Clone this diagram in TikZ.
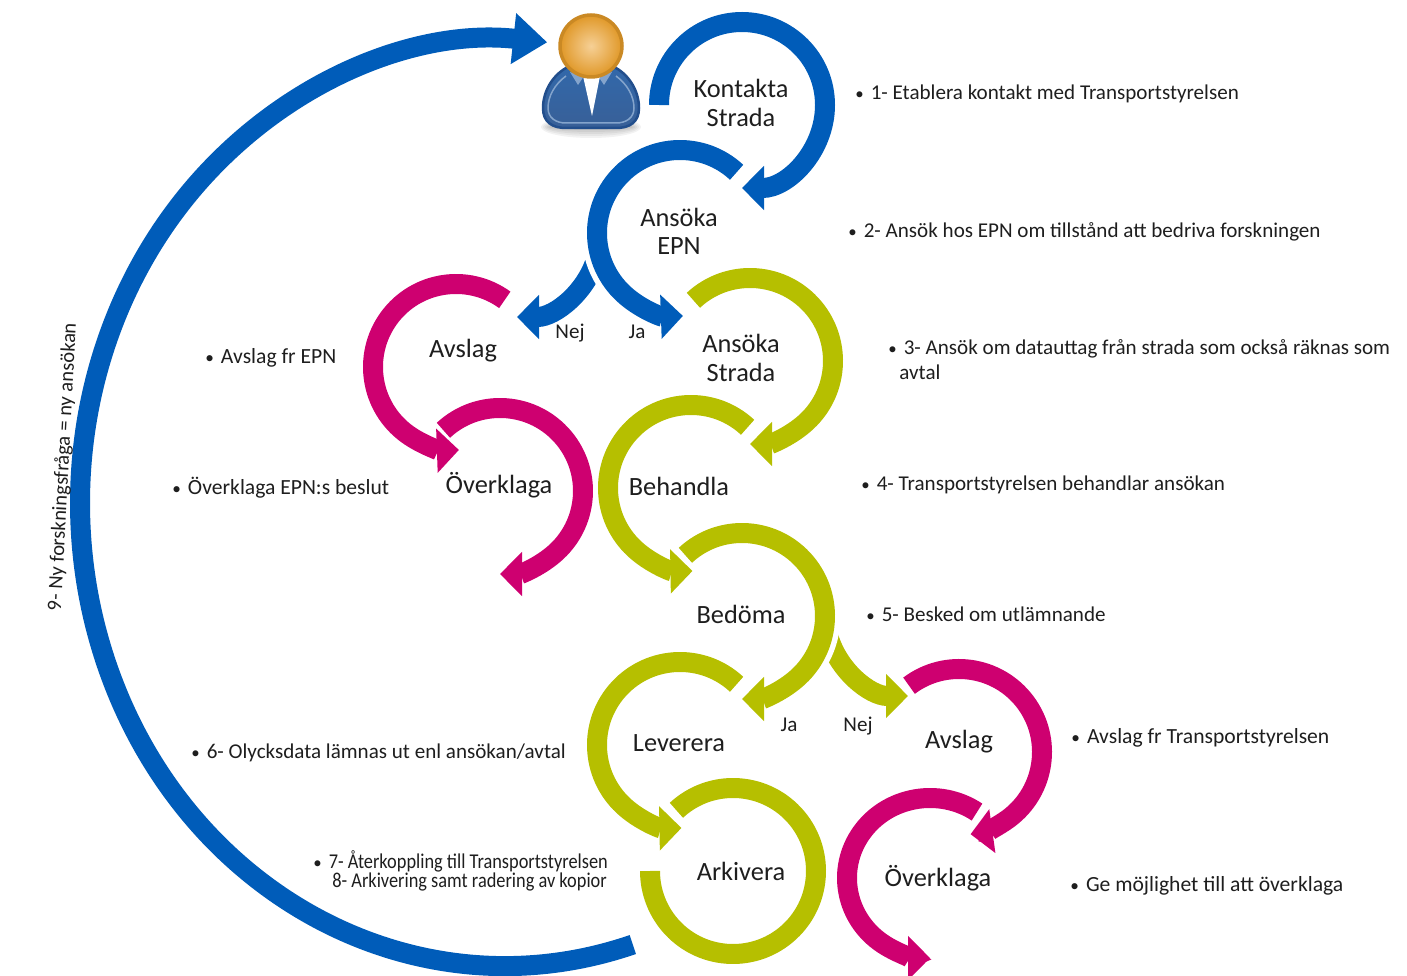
\documentclass[tikz,border=0pt]{standalone}
\usepackage{fontspec}
\setmainfont{Carlito}
\usetikzlibrary{arrows.meta}
\definecolor{ringblue}{RGB}{0, 92, 185}
\definecolor{ringolive}{RGB}{182, 191, 0}
\definecolor{ringmagenta}{RGB}{206, 0, 112}
\definecolor{inktext}{RGB}{30, 30, 30}
\definecolor{headorange}{RGB}{224, 152, 40}
\definecolor{headlight}{RGB}{246, 208, 150}
\definecolor{suitblue}{RGB}{50, 104, 170}
\definecolor{suitdark}{RGB}{34, 78, 140}
\newcommand{\bul}{\scalebox{0.8}{\textbullet}\hspace{4pt}}

\begin{document}
\begin{tikzpicture}[
  x=0.02cm, y=-0.02cm,
  ringarrow/.style={line width=0.4cm, -{Triangle[length=0.44cm, width=0.86cm]}},
  stage/.style={font=\fontsize{15}{16}\selectfont, text=inktext, align=center, inner sep=0pt},
  note/.style={font=\fontsize{12}{14}\selectfont, text=inktext, anchor=west, inner sep=0pt},
  widenote/.style={note, font=\fontsize{12.3}{14}\selectfont},
  answer/.style={font=\fontsize{12}{14}\selectfont, text=inktext, inner sep=0pt}
]
  \useasboundingbox (0,0) rectangle (1407,976);

  % Return arc to the person
  \draw[line width=0.4cm, ringblue, -{Triangle[length=0.68cm, width=0.98cm]}]
    (505,503) ++(72.5:425 and 463) arc[start angle=72.5, end angle=275.7, x radius=425, y radius=463];

  % Side branches, cut back along the ring they leave
  \draw[ringarrow, ringblue] (517,234) ++(15:83) arc[start angle=15, end angle=90, radius=83];
  \draw[ringarrow, ringolive] (908,613) ++(165:83) arc[start angle=165, end angle=90, radius=83];
  \draw[white, line width=0.62cm] (680,233) ++(180:83) arc[start angle=180, end angle=130, radius=83];
  \draw[white, line width=0.62cm] (742,616) ++(0:83) arc[start angle=0, end angle=50, radius=83];

  % Blue arcs
  \foreach \cx/\cy/\st/\en in {742/105/180/450, 680/233/313/88} {
    \draw[ringarrow, ringblue] (\cx,\cy) ++(\st:83) arc[start angle=\st, end angle=\en, radius=83];
  }

  % Olive arcs
  \foreach \cx/\cy/\st/\en in {750/361/227/450, 691/488/313/89, 742/616/227/450, 680/745/313/89} {
    \draw[ringarrow, ringolive] (\cx,\cy) ++(\st:83) arc[start angle=\st, end angle=\en, radius=83];
  }
  \draw[line width=0.4cm, ringolive] (733,871) ++(227:83) arc[start angle=227, end angle=540, radius=83];

  % Magenta arcs
  \foreach \cx/\cy/\st/\en in {456/367/306/88, 500/491/227/450, 959/752/233/442} {
    \draw[ringarrow, ringmagenta] (\cx,\cy) ++(\st:83) arc[start angle=\st, end angle=\en, radius=83];
  }
  \draw[ringarrow, ringmagenta] (930,878) ++(304.5:83 and 80) arc[start angle=304.5, end angle=90, x radius=83, y radius=80];

  % Person
  \foreach \i in {0,1,2,3,4} {
    \fill[black, opacity=0.05] (591,127) ellipse[x radius=50-2*\i, y radius=11-2*\i];
  }
  \draw[line width=0.05cm, suitdark, top color=suitblue, bottom color=suitdark!90]
    (566,68) .. controls (552,76) and (543,92) .. (543,108)
    .. controls (543,122) and (552,128) .. (566,128) -- (616,128)
    .. controls (630,128) and (639,122) .. (639,108)
    .. controls (639,92) and (630,76) .. (616,68) -- cycle;
  \draw[line width=0.03cm, suitblue!60!white]
    (566,76) .. controls (555,84) and (548,96) .. (548,108)
    .. controls (548,118) and (556,123) .. (566,123) -- (616,123)
    .. controls (626,123) and (634,118) .. (634,108)
    .. controls (634,96) and (627,84) .. (616,76);
  \fill[suitblue!60!white] (570,72) -- (584,76) -- (578,85) -- cycle;
  \fill[suitblue!60!white] (612,72) -- (598,76) -- (604,85) -- cycle;
  \fill[white] (583,76) -- (600,76) -- (592,116) -- cycle;
  \draw[line width=0.07cm, headorange!90!black, shading=radial, inner color=headlight, outer color=headorange]
    (591,46) circle[radius=31];

  % Stage names
  \node[stage] (kontakta) at (741,103) {Kontakta\\Strada};
  \node[stage] (ansokaepn) at (679,231) {Ansöka\\EPN};
  \node[stage] (avslagepn) at (463,351) {Avslag};
  \node[stage] (overklagaepn) at (499,485) {Överklaga};
  \node[stage] (ansokastrada) at (741,358) {Ansöka\\Strada};
  \node[stage] (behandla) at (679,486) {Behandla};
  \node[stage] (bedoma) at (741,614) {Bedöma};
  \node[stage] (leverera) at (679,743) {Leverera};
  \node[stage] (arkivera) at (741,871) {Arkivera};
  \node[stage] (avslagts) at (959,742) {Avslag};
  \node[stage] (overklagats) at (938,878) {Överklaga};

  % Answers
  \node[answer] (nejepn) at (570,333) {Nej};
  \node[answer] (jaepn) at (637,332) {Ja};
  \node[answer] (jats) at (789,725) {Ja};
  \node[answer] (nejts) at (858,726) {Nej};

  % Notes on the right
  \node[note] (note1) at (855,94) {\bul 1- Etablera kontakt med Transportstyrelsen};
  \node[note] (note2) at (848,232) {\bul 2- Ansök hos EPN om tillstånd att bedriva forskningen};
  \node[note] (note3) at (888,349) {\bul 3- Ansök om datauttag från strada som också räknas som};
  \node[note] (note3b) at (899,372) {avtal};
  \node[note] (note4) at (861,485) {\bul 4- Transportstyrelsen behandlar ansökan};
  \node[note] (note5) at (866,614) {\bul 5- Besked om utlämnande};
  \node[widenote] (noteavslag) at (1071,738) {\bul Avslag fr Transportstyrelsen};
  \node[widenote] (noteoverklaga) at (1070,886) {\bul Ge möjlighet till att överklaga};

  % Notes on the left
  \node[widenote] (noteepn) at (205,358) {\bul Avslag fr EPN};
  \node[widenote] (notebeslut) at (172,488) {\bul Överklaga EPN:s beslut};
  \node[note] (note6) at (191,753) {\bul 6- Olycksdata lämnas ut enl ansökan/avtal};
  \node[note] (note7) at (313,861) {\bul \scalebox{0.87}[1]{7- Återkoppling till Transportstyrelsen}};
  \node[note] (note8) at (332,882) {\scalebox{0.87}[1]{8- Arkivering samt radering av kopior}};
  \node[note, font=\fontsize{11.7}{14}\selectfont, anchor=center, rotate=87] (note9) at (63,467) {9- Ny forskningsfråga = ny ansökan};
\end{tikzpicture}
\end{document}
